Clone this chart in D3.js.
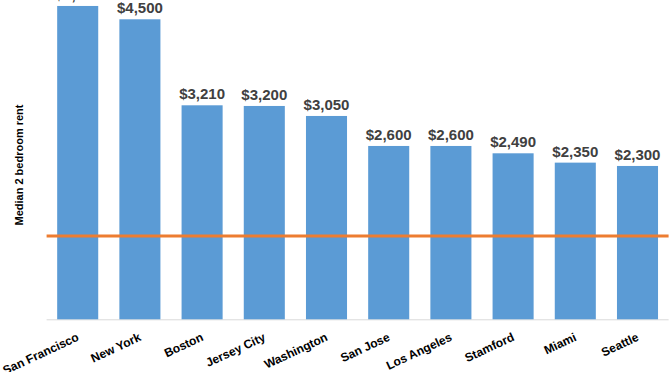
<!DOCTYPE html>
<html>
<head>
<meta charset="utf-8">
<script src="https://cdn.jsdelivr.net/npm/d3@7"></script>
<style>
  body { margin: 0; background: #fff; }
  text { font-family: "Liberation Sans", Arial, sans-serif; }
</style>
</head>
<body>
<svg id="chart" width="672" height="372"></svg>
<script>
var cities = ["San Francisco", "New York", "Boston", "Jersey City", "Washington",
              "San Jose", "Los Angeles", "Stamford", "Miami", "Seattle"]
var rents = [4700, 4500, 3210, 3200, 3050, 2600, 2600, 2490, 2350, 2300]
var refLine = 1250
var yTitle = "Median 2 bedroom rent"

var svg = d3.select("#chart")
var width = 672, height = 372
var left = 46.6, right = 668.6, baseline = 319.3

var x = d3.scaleBand().domain(cities).range([left, right]).paddingInner(0.34).paddingOuter(0.17)
// 15 dollars per pixel
var y = d3.scaleLinear().domain([0, 4500]).range([baseline, baseline - 300])

// axis line
svg.append("line")
    .attr("x1", left).attr("x2", right)
    .attr("y1", baseline + 0.5).attr("y2", baseline + 0.5)
    .style("stroke", "#d9d9d9").style("stroke-width", 1)

svg.selectAll("rect.bar").data(rents).enter().append("rect")
    .attr("class", "bar")
    .attr("x", (d, i) => x(cities[i]))
    .attr("width", x.bandwidth())
    .attr("y", d => y(d))
    .attr("height", d => baseline - y(d))
    .style("fill", "#5b9bd5")

svg.selectAll("text.val").data(rents).enter().append("text")
    .attr("class", "val")
    .attr("x", (d, i) => x(cities[i]) + x.bandwidth() / 2)
    .attr("y", d => y(d) - 6)
    .attr("text-anchor", "middle")
    .style("font-size", "15px").style("font-weight", "bold").style("fill", "#404040")
    .text(d => d3.format("$,")(d))

// reference line
svg.append("line")
    .attr("x1", left).attr("x2", right)
    .attr("y1", y(refLine)).attr("y2", y(refLine))
    .style("stroke", "#ed7d31").style("stroke-width", 3)

// category labels
svg.selectAll("text.cat").data(cities).enter().append("text")
    .attr("class", "cat")
    .attr("transform", d => "translate(" + (x(d) + x.bandwidth() / 2 + 2) + "," + 340 + ") rotate(-25)")
    .attr("text-anchor", "end")
    .style("font-size", "12px").style("font-weight", "bold").style("fill", "#000")
    .text(d => d)

svg.append("text")
    .attr("transform", "translate(23,165) rotate(-90)")
    .attr("text-anchor", "middle")
    .style("font-size", "11px").style("font-weight", "bold").style("fill", "#000")
    .text(yTitle)
</script>
</body>
</html>
